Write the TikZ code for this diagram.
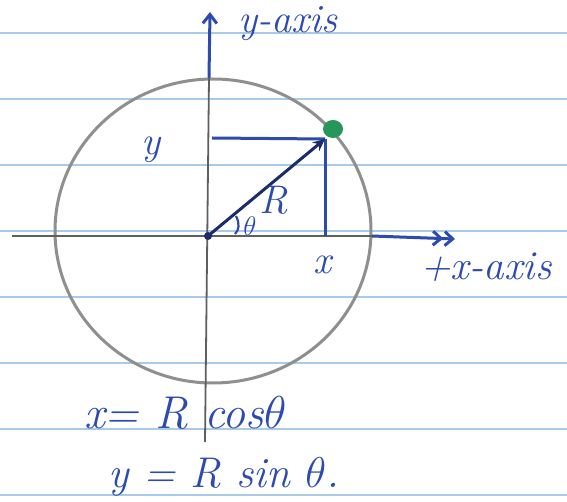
\documentclass[tikz,border=0pt]{standalone}
\usetikzlibrary{arrows.meta}
\definecolor{ink}{RGB}{45,75,175}
\definecolor{pencil}{RGB}{95,95,95}
\definecolor{rule}{RGB}{170,202,234}
\definecolor{greenink}{RGB}{40,150,90}
\tikzset{
  inktext/.style={text=ink, font=\fontsize{40}{44}\selectfont\itshape, inner sep=0pt},
  inkline/.style={draw=ink, line width=3pt},
  axisline/.style={draw=pencil, line width=1.8pt},
  ruleline/.style={draw=rule, line width=1.2pt},
}
\begin{document}
\begin{tikzpicture}[x=1pt,y=-1pt]
\useasboundingbox (0,0) rectangle (567,502);
\fill[white] (0,0) rectangle (567,502);
% ruled paper lines
\foreach \yy in {33,99,165,231,297,363,429,495}
  \draw[ruleline] (0,\yy) -- (567,\yy);
% named points
\coordinate (O) at (208,236);
\coordinate (P) at (325,139);
\coordinate (Py) at (212,138);
\coordinate (Px) at (325,236);
\coordinate (xl) at (12,236);
\coordinate (xm) at (372,236);
\coordinate (xt) at (455,239);
\coordinate (yt) at (210,12);
\coordinate (ym) at (209,78);
\coordinate (yb) at (205,442);
% circle
\draw[draw=pencil!70, line width=3pt] (213,231) ellipse (158pt and 152pt);
% axes
\draw[axisline] (xl) -- (xm);
\draw[inkline, -{Straight Barb[length=8pt,width=14pt]Straight Barb[length=8pt,width=14pt]}] (xm) -- (xt);
\draw[axisline] (ym) -- (yb);
\draw[inkline, -{Straight Barb[length=9pt,width=14pt]}] (ym) -- (yt);
% projections
\draw[inkline] (Py) -- (P);
\draw[inkline] (P) -- (Px);
% radius
\draw[draw=ink!60!black, line width=3pt, -{Stealth[length=12pt,width=11pt]}] (O) -- (P);
\fill[ink!60!black] (O) circle (4pt);
% green point
\fill[greenink] (333,129) ellipse (10pt and 9pt);
% angle mark
\draw[inkline, line width=2.2pt] (236,216) .. controls (240,224) and (239,230) .. (235,234);
% labels
\node[inktext] (Rl) at (274,200) {R};
\node[inktext, font=\fontsize{22}{24}\selectfont\itshape] (th) at (250,226) {\scalebox{1.3}{$\theta$}};
\node[inktext] (yl) at (151,150) {y};
\node[inktext] (xlb) at (322,265) {x};
\node[inktext, anchor=base west] (ya) at (238,33) {y-axis};
\node[inktext, anchor=base west, font=\fontsize{41}{44}\selectfont\itshape] (xa) at (420,280) {+x-axis};
\node[inktext, anchor=base west, font=\fontsize{46}{50}\selectfont\itshape] (e1) at (84,428) {x= R cos\scalebox{1.85}{$\theta$}};
\node[inktext, anchor=base west, font=\fontsize{43}{48}\selectfont\itshape] (e2) at (108,487) {y = R sin \scalebox{1.73}{$\theta$}.};
\end{tikzpicture}
\end{document}
